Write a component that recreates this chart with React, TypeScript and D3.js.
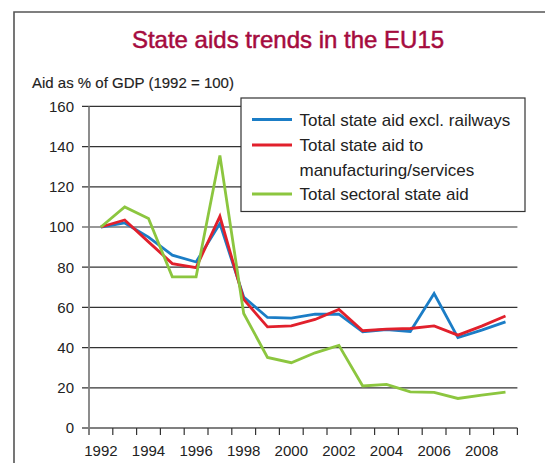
import React from "react";
import * as d3 from "d3";

// years on the x axis (one band per year)
const years = d3.range(1992, 2010);
const yTicks = [0, 20, 40, 60, 80, 100, 120, 140, 160];
const xLabelYears = [1992, 1994, 1996, 1998, 2000, 2002, 2004, 2006, 2008];

// values, index = 1992 = 100
const exclRailways = [100, 102, 95, 86, 82.6, 101.7, 65.2, 55, 54.7, 56.6, 56.6, 47.9, 49, 48, 66.9, 45, 48.7, 52.8];
const manufServices = [100, 103.5, 92.6, 81.8, 79.8, 105.3, 64, 50.3, 50.8, 54, 59, 48.4, 49.2, 49.5, 50.8, 46.2, 50.7, 55.7];
const sectoral = [100, 110, 104.2, 75.2, 75.2, 135.6, 57, 35.1, 32.5, 37.4, 41.1, 20.9, 21.7, 18, 17.7, 14.7, 16.4, 17.9];

const seriesNames = ["Total state aid excl. railways", "Total state aid to|manufacturing/services", "Total sectoral state aid"];
const seriesColors = ["#1b7dc6", "#e1202c", "#8cc63f"];

const FONT = "'Liberation Sans', Arial, sans-serif";

export default function App() {
  const width = 545;
  const height = 463;

  const x = d3.scaleBand<number>().domain(years).range([89, 517.4]).padding(0);
  const y = d3.scaleLinear().domain([0, 160]).range([428, 106.4]);
  const cx = (yr: number) => (x(yr) as number) + x.bandwidth() / 2;

  const line = d3
    .line<number>()
    .x((_, i) => cx(years[i]))
    .y((d) => y(d));

  const allSeries = [exclRailways, manufServices, sectoral];

  // tick marks at band boundaries
  const bounds = years.map((yr) => x(yr) as number).concat([x.range()[1]]);

  const legendRows = [119.5, 145, 194];

  return (
    <svg
      width={width}
      height={height}
      style={{ position: "absolute", left: 0, top: 0, background: "#fff" }}
      fontFamily={FONT}
    >
      {/* outer frame */}
      <path d="M14,470 L14,12 L560,12" fill="none" stroke="#555" strokeWidth={1.6} />

      <text x={288} y={47.5} textAnchor="middle" fontSize={24} fill="#a50b3e" stroke="#a50b3e" strokeWidth={0.5}>
        State aids trends in the EU15
      </text>
      <text x={32} y={88} fontSize={15} fill="#222" stroke="#222" strokeWidth={0.15}>
        Aid as % of GDP (1992 = 100)
      </text>

      {/* gridlines */}
      {yTicks.filter((t) => t > 0).map((t) => (
        <line key={t} x1={82} x2={517.4} y1={y(t)} y2={y(t)} stroke="#333" strokeWidth={1.2} />
      ))}

      {/* y tick labels */}
      {yTicks.map((t) => (
        <text key={t} x={74} y={y(t)} dy="0.36em" textAnchor="end" fontSize={15} fill="#222">
          {t}
        </text>
      ))}

      {/* x axis */}
      <line x1={82} x2={517.4} y1={y(0)} y2={y(0)} stroke="#808080" strokeWidth={1.8} />
      {bounds.map((b, i) => (
        <line key={i} x1={b} x2={b} y1={y(0)} y2={y(0) + 7} stroke="#333" strokeWidth={1.2} />
      ))}
      {xLabelYears.map((yr) => (
        <text key={yr} x={cx(yr)} y={456} textAnchor="middle" fontSize={15} fill="#222">
          {yr}
        </text>
      ))}

      {/* y axis */}
      <line x1={89} x2={89} y1={y(160)} y2={y(0) + 7} stroke="#808080" strokeWidth={1.8} />

      {/* series */}
      {allSeries.map((s, i) => (
        <path
          key={i}
          d={line(s) as string}
          fill="none"
          stroke={seriesColors[i]}
          strokeWidth={2.8}
          strokeLinejoin="miter"
        />
      ))}

      {/* legend */}
      <rect x={241} y={98} width={284} height={113.5} fill="#fff" stroke="#333" strokeWidth={1.2} />
      {seriesNames.map((name, i) => {
        const parts = name.split("|");
        return (
          <g key={i}>
            <line x1={252} x2={292} y1={legendRows[i]} y2={legendRows[i]} stroke={seriesColors[i]} strokeWidth={2.8} />
            {parts.map((p, j) => (
              <text key={j} x={299.5} y={legendRows[i] + j * 25} dy="0.36em" fontSize={17} fill="#222">
                {p}
              </text>
            ))}
          </g>
        );
      })}
    </svg>
  );
}
